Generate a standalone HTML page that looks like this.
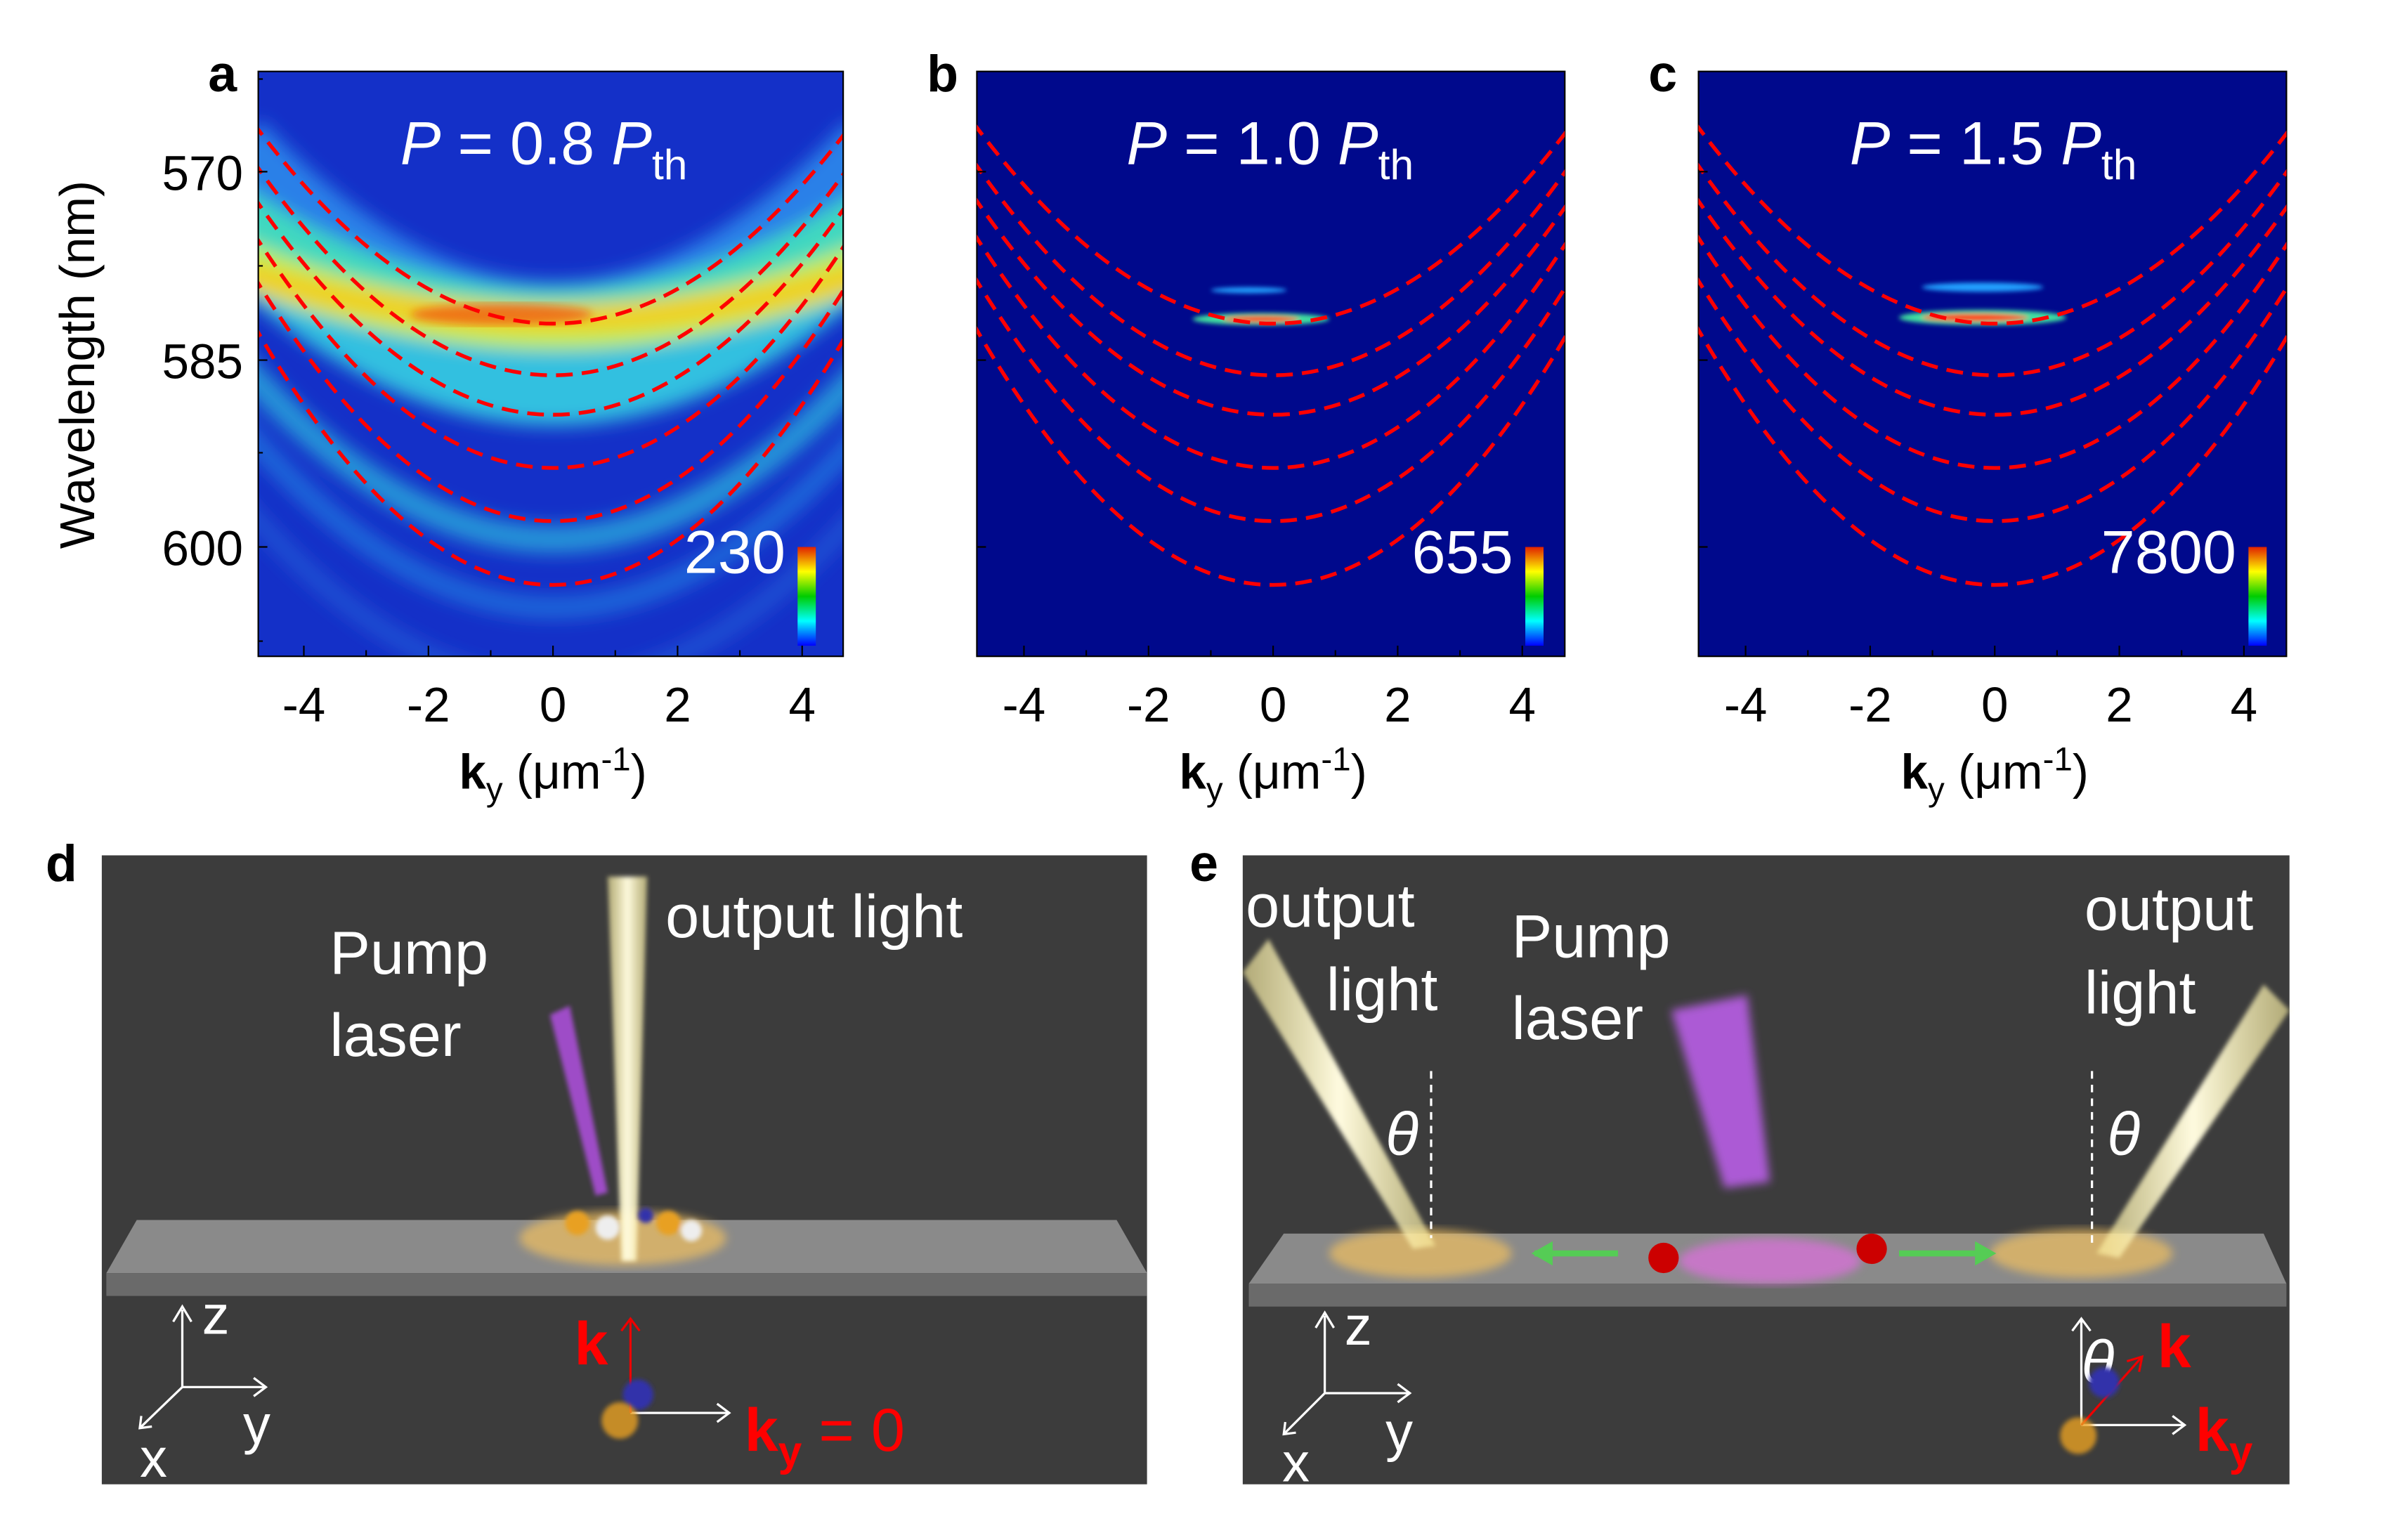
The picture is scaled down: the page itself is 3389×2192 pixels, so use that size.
<!DOCTYPE html>
<html><head><meta charset="utf-8"><style>
html,body{margin:0;padding:0;background:#fff}
svg{display:block}
text{font-family:"Liberation Sans",sans-serif}
</style></head><body>
<svg width="3389" height="2192" viewBox="0 0 1550 1002.5" xmlns="http://www.w3.org/2000/svg">
<defs>
<filter id="b6" x="-20%" y="-20%" width="140%" height="140%"><feGaussianBlur stdDeviation="6"/></filter>
<filter id="b3"><feGaussianBlur stdDeviation="3"/></filter>
<filter id="b2"><feGaussianBlur stdDeviation="1.5"/></filter>
<linearGradient id="cb" x1="0" y1="0" x2="0" y2="1">
<stop offset="0" stop-color="#e02000"/><stop offset="0.25" stop-color="#ff0"/><stop offset="0.5" stop-color="#0c0"/><stop offset="0.75" stop-color="#0ff"/><stop offset="1" stop-color="#00f"/></linearGradient>
<linearGradient id="beam" x1="0" y1="0" x2="1" y2="0"><stop offset="0" stop-color="#fff3a0" stop-opacity="0.6"/><stop offset="0.5" stop-color="#fffbe0"/><stop offset="1" stop-color="#fff3a0" stop-opacity="0.6"/></linearGradient>
<clipPath id="ca"><rect x="170" y="47" width="385" height="385"/></clipPath>
<clipPath id="cbp"><rect x="643" y="47" width="387" height="385"/></clipPath>
<clipPath id="ccp"><rect x="1118" y="47" width="387" height="385"/></clipPath>
<g id="par" fill="none" stroke="#f00" stroke-width="2.5" stroke-dasharray="11,6">
<path d="M-198,80 Q0,346 198,80"/>
<path d="M-198,105 Q0,389 198,105"/>
<path d="M-198,128 Q0,418 198,128"/>
<path d="M-198,152 Q0,464 198,152"/>
<path d="M-198,180 Q0,506 198,180"/>
<path d="M-198,212 Q0,558 198,212"/>
</g>
</defs>
<rect width="1550" height="1003" fill="#fff"/>
<g transform="scale(0.989)">

<!-- Panel a -->
<g clip-path="url(#ca)">
<rect x="170" y="47" width="385" height="385" fill="#1430c8"/>
<g filter="url(#b6)" fill="none">
<path d="M150,100 Q364,330 580,100" stroke="#2a80e8" stroke-width="60"/>
<path d="M150,150 Q364,360 580,150" stroke="#30c0e0" stroke-width="50"/>
<path d="M150,140 Q364,280 580,140" stroke="#40d8c0" stroke-width="40"/>
<path d="M150,170 Q364,260 580,170" stroke="#c0f050" stroke-width="30"/>
<path d="M160,180 Q364,240 570,180" stroke="#f0d020" stroke-width="18"/>
<path d="M150,230 Q364,480 580,230" stroke="#30c0e0" stroke-width="18" opacity="0.7"/>
<path d="M150,270 Q364,530 580,270" stroke="#2a90e8" stroke-width="14" opacity="0.6"/>
<path d="M150,320 Q364,580 580,320" stroke="#2a70e0" stroke-width="12" opacity="0.5"/>
</g>
<g filter="url(#b3)"><ellipse cx="330" cy="207" rx="60" ry="7" fill="#f06010" opacity="0.8"/></g>
<use href="#par" transform="translate(364,0)"/>
</g>
<rect x="170" y="47" width="385" height="385" fill="none" stroke="#000" stroke-width="1"/>

<!-- Panel b,c bg -->
<rect x="643" y="47" width="387" height="385" fill="#00098c" stroke="#000"/>
<rect x="1118" y="47" width="387" height="385" fill="#00098c" stroke="#000"/>
<g filter="url(#b2)">
<ellipse cx="830" cy="210" rx="45" ry="4" fill="#40e0a0"/><ellipse cx="830" cy="210" rx="25" ry="2" fill="#ff4000"/>
<ellipse cx="822" cy="191" rx="25" ry="2" fill="#20a0ff"/>
<ellipse cx="1305" cy="209" rx="55" ry="5" fill="#40e0a0"/><ellipse cx="1300" cy="209" rx="35" ry="2.5" fill="#ff4000"/>
<ellipse cx="1305" cy="189" rx="40" ry="3" fill="#20a0ff"/>
</g>
<g clip-path="url(#cbp)"><use href="#par" transform="translate(838,0)"/></g>
<g clip-path="url(#ccp)"><use href="#par" transform="translate(1313,0)"/></g>

<!-- colorbars -->
<rect x="525" y="360" width="12" height="65" fill="url(#cb)"/>
<rect x="1004" y="360" width="12" height="65" fill="url(#cb)"/>
<rect x="1480" y="360" width="12" height="65" fill="url(#cb)"/>
<g fill="#fff" font-size="40" text-anchor="end">
<text x="517" y="377">230</text><text x="996" y="377">655</text><text x="1472" y="377">7800</text>
</g>
<g fill="#fff" font-size="40" text-anchor="middle">
<text x="358" y="108"><tspan font-style="italic">P</tspan> = 0.8 <tspan font-style="italic">P</tspan><tspan font-size="28" dy="10">th</tspan></text>
<text x="836" y="108"><tspan font-style="italic">P</tspan> = 1.0 <tspan font-style="italic">P</tspan><tspan font-size="28" dy="10">th</tspan></text>
<text x="1312" y="108"><tspan font-style="italic">P</tspan> = 1.5 <tspan font-style="italic">P</tspan><tspan font-size="28" dy="10">th</tspan></text>
</g>

<!-- ticks -->
<g stroke="#000" stroke-width="1">
<path id="tk" d="M-164,432v-7M-123,432v-4M-82,432v-7M-41,432v-4M0,432v-7M41,432v-4M82,432v-7M123,432v-4M164,432v-7" transform="translate(364,0)"/>
<use href="#tk" transform="translate(474,0)"/>
<use href="#tk" transform="translate(949,0)"/>
<path d="M170,113h6M170,237h6M170,360h6M170,175h3M170,298h3M170,422h3M170,52h3"/>
<path d="M643,113h6M643,237h6M643,360h6M1118,113h6M1118,237h6M1118,360h6"/>
</g>
<g font-size="32" text-anchor="middle" fill="#000">
<g id="xl"><text x="200" y="475">-4</text><text x="282" y="475">-2</text><text x="364" y="475">0</text><text x="446" y="475">2</text><text x="528" y="475">4</text>
<text x="364" y="519"><tspan font-weight="bold">k</tspan><tspan font-size="22" dy="8">y</tspan><tspan dy="-8"> (μm</tspan><tspan font-size="22" dy="-12">-1</tspan><tspan dy="12">)</tspan></text></g>
<use href="#xl" transform="translate(474,0)"/>
<use href="#xl" transform="translate(949,0)"/>
<text x="160" y="125" text-anchor="end">570</text>
<text x="160" y="249" text-anchor="end">585</text>
<text x="160" y="372" text-anchor="end">600</text>
<text transform="translate(62,240) rotate(-90)">Wavelength (nm)</text>
</g>
<g font-size="34" font-weight="bold" fill="#000">
<text x="137" y="60">a</text><text x="610" y="60">b</text><text x="1085" y="60">c</text>
<text x="30" y="580">d</text><text x="783" y="580">e</text>
</g>

<!-- Panel d -->
<rect x="67" y="563" width="688" height="414" fill="#3c3c3c"/>
<polygon points="90,803 735,803 755,838 70,838" fill="#8a8a8a"/>
<polygon points="70,838 755,838 755,853 70,853" fill="#6a6a6a"/>
<ellipse cx="410" cy="815" rx="68" ry="18" fill="#f0c060" opacity="0.7" filter="url(#b3)"/>
<polygon points="362,668 375,662 400,785 392,787" fill="#b050e0" opacity="0.85" filter="url(#b2)"/>
<polygon points="400,577 426,577 419,830 409,830" fill="url(#beam)" filter="url(#b2)"/>
<g filter="url(#b2)"><circle cx="380" cy="805" r="8" fill="#e8a020"/><circle cx="400" cy="808" r="8" fill="#eee"/><circle cx="440" cy="805" r="8" fill="#e8a020"/><circle cx="455" cy="810" r="7" fill="#eee"/><circle cx="425" cy="800" r="5" fill="#33a"/></g>
<g fill="#fff" font-size="40">
<text x="438" y="617">output light</text>
<text x="217" y="641">Pump</text><text x="217" y="695">laser</text>
<text x="133" y="878" font-size="36">z</text><text x="160" y="950" font-size="36">y</text><text x="92" y="972" font-size="36">x</text>
</g>
<g stroke="#fff" stroke-width="1.5" fill="none">
<path d="M120,913V862M114,870l6,-10l6,10M120,913H175M167,907l8,6l-8,6M120,913L92,940M93,932l-1,8l8,-1"/>
<path d="M415,930H480M472,924l8,6l-8,6"/>
</g>
<path d="M415,930V868M409,876l6,-8l6,8" stroke="#e00" stroke-width="1.5" fill="none"/>
<circle cx="420" cy="918" r="10" fill="#33a" filter="url(#b2)"/><circle cx="408" cy="935" r="12" fill="#e8a020" opacity="0.8" filter="url(#b2)"/>
<g fill="#f00" font-size="40" font-weight="bold"><text x="378" y="898">k</text><text x="490" y="955">k<tspan font-size="28" dy="10">y</tspan><tspan dy="-10" font-weight="normal"> = 0</tspan></text></g>

<!-- Panel e -->
<rect x="818" y="563" width="689" height="414" fill="#3c3c3c"/>
<polygon points="845,812 1490,812 1505,845 822,845" fill="#8a8a8a"/>
<polygon points="822,845 1505,845 1505,860 822,860" fill="#6a6a6a"/>
<ellipse cx="935" cy="825" rx="60" ry="16" fill="#f0c060" opacity="0.7" filter="url(#b3)"/>
<ellipse cx="1165" cy="830" rx="60" ry="15" fill="#e070e0" opacity="0.7" filter="url(#b3)"/>
<ellipse cx="1370" cy="825" rx="60" ry="16" fill="#f0c060" opacity="0.7" filter="url(#b3)"/>
<polygon points="818,640 835,618 945,820 930,822" fill="url(#beam)" filter="url(#b2)"/>
<polygon points="1490,648 1507,665 1395,828 1380,825" fill="url(#beam)" filter="url(#b2)"/>
<polygon points="1100,665 1150,655 1165,778 1135,782" fill="#c060f0" opacity="0.85" filter="url(#b3)"/>
<g stroke="#5c5" stroke-width="4"><path d="M1010,825H1065M1250,825H1310"/></g>
<polygon points="1008,825 1022,817 1022,833" fill="#5c5"/><polygon points="1314,825 1300,817 1300,833" fill="#5c5"/>
<g fill="#c00"><circle cx="1095" cy="828" r="10"/><circle cx="1232" cy="822" r="10"/></g>
<g stroke="#fff" stroke-width="1.5" fill="none" stroke-dasharray="5,4"><path d="M942,705V815M1377,705V820"/></g>
<g fill="#fff" font-size="40">
<text x="820" y="610">output</text><text x="873" y="665">light</text>
<text x="995" y="630">Pump</text><text x="995" y="684">laser</text>
<text x="1372" y="612">output</text><text x="1372" y="667">light</text>
<text x="912" y="760" font-style="italic">θ</text><text x="1387" y="760" font-style="italic">θ</text>
<text x="1370" y="910" font-style="italic">θ</text>
<text x="885" y="885" font-size="36">z</text><text x="912" y="955" font-size="36">y</text><text x="844" y="975" font-size="36">x</text>
</g>
<g stroke="#fff" stroke-width="1.5" fill="none">
<path d="M872,917V866M866,874l6,-10l6,10M872,917H928M920,911l8,6l-8,6M872,917L845,944M846,936l-1,8l8,-1"/>
<path d="M1370,938V868M1364,876l6,-8l6,8M1370,938H1438M1430,932l8,6l-8,6"/>
</g>
<path d="M1370,938L1410,893M1400,896l10,-3l-2,10" stroke="#e00" stroke-width="1.5" fill="none"/>
<circle cx="1385" cy="910" r="10" fill="#33a" filter="url(#b2)"/><circle cx="1368" cy="945" r="12" fill="#e8a020" opacity="0.8" filter="url(#b2)"/>
<g fill="#f00" font-size="40" font-weight="bold"><text x="1420" y="900">k</text><text x="1445" y="955">k<tspan font-size="28" dy="10">y</tspan></text></g>
</g>
</svg>
</body></html>
